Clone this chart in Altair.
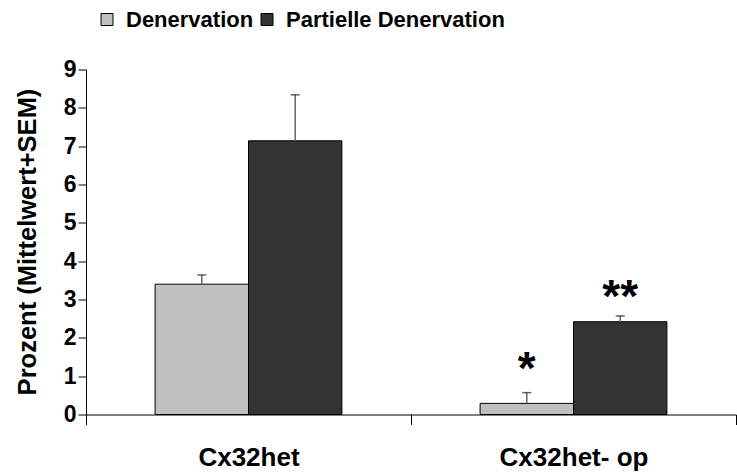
import altair as alt
import pandas as pd

# ---- data ----
groups = ["Cx32het", "Cx32het- op"]
series = ["Denervation", "Partielle Denervation"]
den_mean = [3.40, 0.29]
den_sem = [0.24, 0.28]
part_mean = [7.14, 2.42]
part_sem = [1.20, 0.15]
den_sig = ["", "*"]
part_sig = ["", "**"]
den_sig_y = [None, 1.36]
part_sig_y = [None, 3.26]
y_ticks = [0, 1, 2, 3, 4, 5, 6, 7, 8, 9]
colors = ["#C0C0C0", "#333333"]

rows = []
for s, means, sems, sigs, sig_ys in [
    (series[0], den_mean, den_sem, den_sig, den_sig_y),
    (series[1], part_mean, part_sem, part_sig, part_sig_y),
]:
    for g, m, e, sg, sy in zip(groups, means, sems, sigs, sig_ys):
        rows.append({"group": g, "series": s, "mean": m, "top": m + e,
                     "sig": sg, "sig_y": sy})
df = pd.DataFrame(rows)

FONT = "Liberation Sans"

x_enc = alt.X(
    "group:N", sort=groups, title=None,
    scale=alt.Scale(paddingInner=0, paddingOuter=0),
    axis=alt.Axis(labelAngle=0, labelFontSize=26, labelFontWeight="bold",
                  labelColor="black", labelPadding=20, tickBand="extent",
                  tickSize=10, tickColor="black", domainColor="black",
                  grid=False, labelFont=FONT),
)
xoff_enc = alt.XOffset(
    "series:N", sort=series,
    scale=alt.Scale(paddingInner=0, paddingOuter=0.74),
)
y_axis = alt.Axis(values=y_ticks, labelFontSize=23, labelFontWeight="bold",
                  labelColor="black", labelPadding=2, tickSize=8,
                  tickColor="black", domainColor="black", grid=False,
                  title="Prozent (Mittelwert+SEM)", titleFontSize=25.5,
                  titleFontWeight="bold", titleColor="black", titleAngle=270,
                  titleX=-59, titleY=172, titleAlign="center",
                  titleBaseline="middle", labelFont=FONT, titleFont=FONT)
y_scale = alt.Scale(domain=[0, 9], nice=False)

base = alt.Chart(df)

bars = base.mark_bar(stroke="black", strokeWidth=1).encode(
    x=x_enc,
    xOffset=xoff_enc,
    y=alt.Y("mean:Q", scale=y_scale, axis=y_axis),
    color=alt.Color(
        "series:N", sort=series,
        scale=alt.Scale(domain=series, range=colors),
        legend=alt.Legend(
            title=None, orient="none", direction="horizontal",
            legendX=10, legendY=-61, symbolType="square", symbolSize=144,
            symbolStrokeColor="black", symbolStrokeWidth=1,
            labelFontSize=22, labelFontWeight="bold", labelColor="black",
            labelFont=FONT, labelOffset=8, columnPadding=2, labelLimit=400,
            padding=0,
        ),
    ),
)

err = base.mark_rule(color="#666666", strokeWidth=1.5).encode(
    x=x_enc, xOffset=xoff_enc,
    y=alt.Y("mean:Q", scale=y_scale, axis=y_axis),
    y2="top:Q",
)

caps = base.mark_tick(color="#222222", thickness=1.5, size=9).encode(
    x=x_enc, xOffset=xoff_enc,
    y=alt.Y("top:Q", scale=y_scale, axis=y_axis),
)

stars = base.mark_text(fontSize=46, fontWeight="bold", font=FONT,
                       color="black", baseline="alphabetic", dy=22).encode(
    x=x_enc, xOffset=xoff_enc,
    y=alt.Y("sig_y:Q", scale=y_scale, axis=y_axis),
    text="sig:N",
).transform_filter("datum.sig != ''")

chart = alt.layer(bars, err, caps, stars).properties(
    width=650, height=345,
    autosize=alt.AutoSizeParams(type="none"),
    padding={"left": 86, "top": 69.5, "right": 1, "bottom": 60.5},
).configure(font=FONT).configure_view(stroke=None)

chart.save("out.html", embed_options={"renderer": "svg", "actions": False})
